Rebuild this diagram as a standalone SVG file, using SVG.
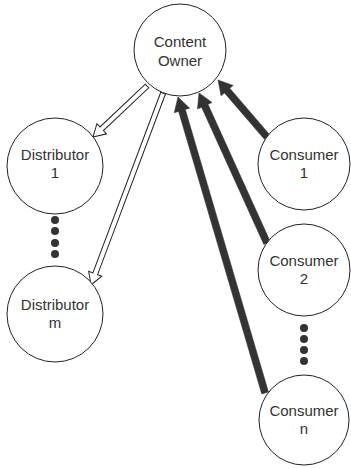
<svg xmlns="http://www.w3.org/2000/svg" width="351" height="469" viewBox="0 0 351 469">
<style>
.node circle{fill:#fff;stroke:#222;stroke-width:1}
.node text{font-family:"Liberation Sans",Arial,sans-serif;font-size:15px;fill:#333;text-anchor:middle}
.dots circle{fill:#333;stroke:none}
.hollow{fill:#fff;stroke:#222;stroke-width:1;stroke-linejoin:miter}
.solid{fill:#333;stroke:#333;stroke-width:0.5}
</style>
<rect width="351" height="469" fill="#fff"/>
<g id="connectors">
  <path class="hollow" transform="translate(93,137) rotate(136.6)" d="M0,0 L-12,-7 L-12,-2.5 L-74.3,-2.5 L-74.3,2.5 L-12,2.5 L-12,7 Z"/>
  <path class="hollow" transform="translate(91,285) rotate(110.6)" d="M0,0 L-12,-7 L-12,-2.5 L-205,-2.5 L-205,2.5 L-12,2.5 L-12,7 Z"/>
  <path class="solid" transform="translate(218,80) rotate(-130.7)" d="M0,0 L-14,-8 L-14,-3.5 L-75.2,-3.5 L-75.2,3.5 L-14,3.5 L-14,8 Z"/>
  <path class="solid" transform="translate(199,93) rotate(-114.4)" d="M0,0 L-14,-8 L-14,-3.5 L-164.7,-3.5 L-164.7,3.5 L-14,3.5 L-14,8 Z"/>
  <path class="solid" transform="translate(178,97) rotate(-106.4)" d="M0,0 L-14,-8 L-14,-3.5 L-308.5,-3.5 L-308.5,3.5 L-14,3.5 L-14,8 Z"/>
</g>
<g id="owner" class="node">
  <circle cx="180" cy="50" r="46"/>
  <text x="180" y="47">Content</text>
  <text x="180" y="66">Owner</text>
</g>
<g id="distributor1" class="node">
  <circle cx="55" cy="166" r="48"/>
  <text x="55" y="160">Distributor</text>
  <text x="55" y="178">1</text>
</g>
<g id="distributor-dots" class="dots">
  <circle cx="55" cy="220" r="4"/>
  <circle cx="55" cy="231" r="4"/>
  <circle cx="55" cy="243" r="4"/>
  <circle cx="55" cy="254" r="4"/>
</g>
<g id="distributorm" class="node">
  <circle cx="55" cy="314" r="48"/>
  <text x="55" y="310">Distributor</text>
  <text x="55" y="328">m</text>
</g>
<g id="consumer1" class="node">
  <circle cx="304" cy="164" r="46"/>
  <text x="304" y="160">Consumer</text>
  <text x="304" y="178">1</text>
</g>
<g id="consumer2" class="node">
  <circle cx="304" cy="270" r="46"/>
  <text x="304" y="266">Consumer</text>
  <text x="304" y="284">2</text>
</g>
<g id="consumer-dots" class="dots">
  <circle cx="304" cy="328" r="4"/>
  <circle cx="304" cy="339" r="4"/>
  <circle cx="304" cy="350" r="4"/>
  <circle cx="304" cy="361" r="4"/>
</g>
<g id="consumern" class="node">
  <circle cx="304" cy="420" r="45"/>
  <text x="304" y="416">Consumer</text>
  <text x="304" y="434">n</text>
</g>
</svg>
